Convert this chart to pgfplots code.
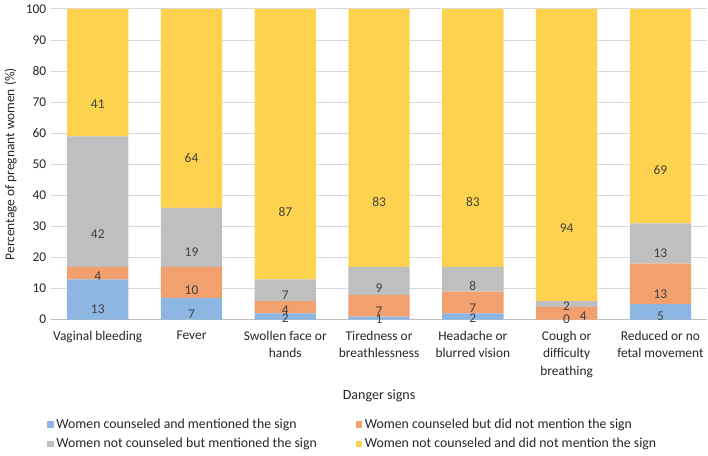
\documentclass[border=0pt]{standalone}
\usepackage{pgfplots}
\usepackage{pgfplotstable}
\pgfplotsset{compat=1.18}
\usepackage{fontspec}
\setmainfont{Carlito}

\definecolor{cblue}{HTML}{8DB6E2}
\definecolor{corange}{HTML}{F2A06E}
\definecolor{cgray}{HTML}{BFBFBF}
\definecolor{cyellow}{HTML}{FDD24F}
\definecolor{txtgray}{HTML}{262626}
\definecolor{valgray}{HTML}{404040}
\definecolor{gridgray}{HTML}{D9D9D9}

% share of pregnant women per danger sign (%)
\pgfplotstableread{
x blue orange gray yellow
0 13 4  42 41
1 7  10 19 64
2 2  4  7  87
3 1  7  9  83
4 2  7  8  83
5 0  4  2  94
6 5  13 13 69
}\signs

\begin{document}
\begin{tikzpicture}
\begin{axis}[
    set layers, clip=false,
    every axis plot/.append style={on layer=pre main},
    width=490pt, height=232pt, scale only axis,
    ybar stacked, bar width=45.75pt,
    xmin=-0.5, xmax=6.5, ymin=0, ymax=100,
    ytick distance=10,
    xtick={0,...,6},
    xticklabels={Vaginal bleeding, Fever, Swollen face or\\hands,
        Tiredness or\\breathlessness, Headache or\\blurred vision,
        Cough or\\difficulty\\breathing, Reduced or no\\fetal movement},
    xticklabel style={align=center, text=txtgray,
        font=\fontsize{10}{13}\selectfont, yshift=-5pt},
    yticklabel style={text=txtgray, font=\fontsize{10}{12}\selectfont},
    /pgf/number format/assume math mode=true,
    major tick length=0pt,
    axis x line*=bottom, axis y line*=left,
    x axis line style={cgray, line width=0.6pt},
    y axis line style={draw=none},
    ymajorgrids, major grid style={gridgray, line width=0.6pt},
    xlabel={Danger signs},
    xlabel style={at={(axis description cs:0.5,-0.245)}, anchor=center,
        text=txtgray, font=\fontsize{10.5}{12}\selectfont},
    ylabel={Percentage of pregnant women (\%)},
    ylabel style={text=txtgray, font=\fontsize{10}{12}\selectfont},
    visualization depends on=rawy \as \rawy,
    visualization depends on=x \as \xval,
    nodes near coords={\pgfmathprintnumber[fixed,precision=0]{\rawy}},
    every node near coord/.append style={anchor=center, text=valgray,
        font=\fontsize{10}{12}\selectfont, yshift={-0.58*\rawy}},
    legend columns=2, legend cell align=left,
    legend style={at={(axis description cs:-0.012,-0.30)}, anchor=north west,
        draw=none, fill=none, font=\fontsize{10.3}{12}\selectfont,
        text=txtgray, row sep=2pt,
        /tikz/every even column/.append style={column sep=27pt}},
    legend image code/.code={\fill[#1] (0pt,-2.4pt) rectangle (4.8pt,2.4pt);},
]
\addplot[fill=cblue, draw=none] table[x=x, y=blue] {\signs};
\addplot[fill=corange, draw=none,
    every node near coord/.append style={xshift={(\xval==5)*12.5}}]
    table[x=x, y=orange] {\signs};
\addplot[fill=cgray, draw=none] table[x=x, y=gray] {\signs};
\addplot[fill=cyellow, draw=none] table[x=x, y=yellow] {\signs};
% the zero-height blue bar gets no automatic label
\node[text=valgray, font=\fontsize{10}{12}\selectfont] at (axis cs:5,0) {0};
\legend{Women counseled and mentioned the sign,
    Women counseled but did not mention the sign,
    Women not counseled but mentioned the sign,
    Women not counseled and did not mention the sign}
\end{axis}
\end{tikzpicture}
\end{document}
